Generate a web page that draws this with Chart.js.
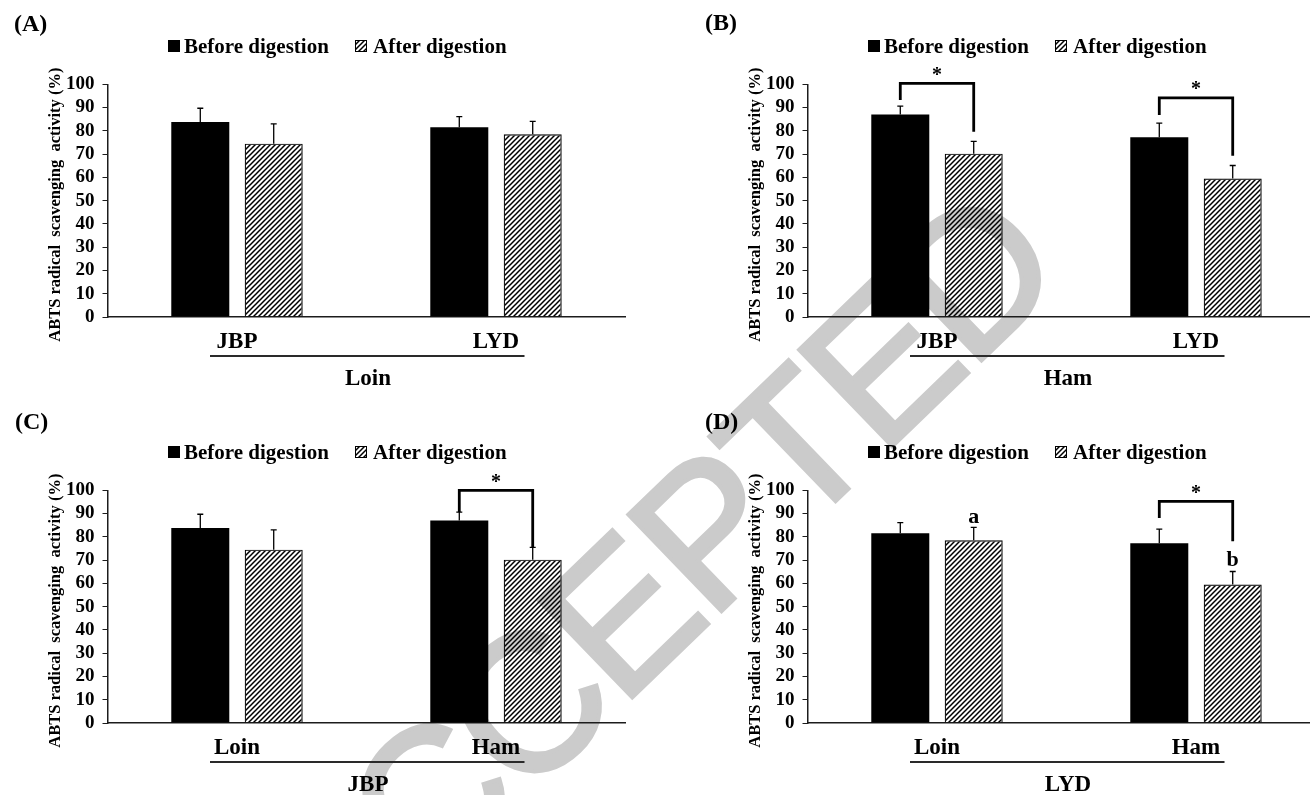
<!DOCTYPE html>
<html>
<head>
<meta charset="utf-8">
<script src="https://cdn.jsdelivr.net/npm/chart.js@4.4.1/dist/chart.umd.min.js"></script>
<style>
html,body{margin:0;padding:0;background:#fff;overflow:hidden;}
#stage{position:relative;width:1310px;height:795px;overflow:hidden;background:#fff;}
#wm{position:absolute;left:0;top:0;z-index:0;}
.panel{position:absolute;z-index:1;}
.panel canvas{display:block;}
</style>
</head>
<body>
<div id="stage">
  <svg id="wm" width="1310" height="795" xmlns="http://www.w3.org/2000/svg">
    <text x="337.6" y="982" transform="rotate(-44 337.6 982)" font-family="'Liberation Sans', Arial, sans-serif" font-size="195" letter-spacing="-6" fill="#cbcbcb" stroke="#cbcbcb" stroke-width="4" stroke-linejoin="miter">ACCEPTED</text>
  </svg>
  <div class="panel" style="left:0px;top:0px;"><canvas id="cA" width="700" height="400"></canvas></div>
  <div class="panel" style="left:700px;top:0px;"><canvas id="cB" width="700" height="400"></canvas></div>
  <div class="panel" style="left:0px;top:406px;"><canvas id="cC" width="700" height="389"></canvas></div>
  <div class="panel" style="left:700px;top:406px;"><canvas id="cD" width="700" height="389"></canvas></div>
</div>
<script>
// ---------------- data ----------------
const breedLabels = ['JBP', 'LYD'];
const cutLabels = ['Loin', 'Ham'];
const seriesNames = ['Before digestion', 'After digestion'];
const yTickMin = 0, yTickMax = 100, yTickStep = 10;

// Loin, per breed [JBP, LYD]
const loinBefore    = [83.8, 81.5];
const loinBeforeErr = [5.9, 4.6];
const loinAfter     = [74.5, 78.5];
const loinAfterErr  = [8.5, 5.6];
// Ham, per breed [JBP, LYD]
const hamBefore     = [87.0, 77.2];
const hamBeforeErr  = [3.6, 6.1];
const hamAfter      = [70.2, 59.5];
const hamAfterErr   = [5.3, 5.6];
// JBP, per cut [Loin, Ham]
const jbpBefore     = [83.8, 87.0];
const jbpBeforeErr  = [5.9, 3.6];
const jbpAfter      = [74.5, 70.2];
const jbpAfterErr   = [8.5, 5.3];
// LYD, per cut [Loin, Ham]
const lydBefore     = [81.5, 77.2];
const lydBeforeErr  = [4.6, 6.1];
const lydAfter      = [78.5, 59.5];
const lydAfterErr   = [5.6, 5.6];

// significance brackets: [category index, bracket top, left leg end, right leg end]
const bracketsB = [[0, 100.4, 93.3, 79.6], [1, 94.2, 86.8, 69.3]];
const bracketsC = [[1, 100.0, 90.7, 75.2]];
const bracketsD = [[1, 95.2, 88.1, 78.1]];
// letters: [dataset index, category index, text, value at baseline]
const lettersD = [[1, 0, 'a', 85.8], [1, 1, 'b', 67.3]];

// ---------------- styles ----------------
const SERIF = "'Liberation Serif', 'Times New Roman', Times, serif";
const INK = '#000';
const AXIS = '#1c1c1c';

function makeHatch() {
  const s = 5;
  const c = document.createElement('canvas');
  c.width = s; c.height = s;
  const g = c.getContext('2d');
  g.strokeStyle = '#000';
  g.lineWidth = 1.5;
  g.beginPath();
  g.moveTo(-1, s + 1); g.lineTo(s + 1, -1);
  g.moveTo(-1, 1); g.lineTo(1, -1);
  g.moveTo(s - 1, s + 1); g.lineTo(s + 1, s - 1);
  g.stroke();
  return document.createElement('canvas').getContext('2d').createPattern(c, 'repeat');
}
const hatch = makeHatch();

function decorPlugin(p) {
  return {
    id: 'decor' + p.id,
    afterDatasetsDraw(chart) {
      const ctx = chart.ctx;
      const ys = chart.scales.y;
      ctx.save();
      // error bars
      chart.data.datasets.forEach((ds, i) => {
        const meta = chart.getDatasetMeta(i);
        meta.data.forEach((bar, j) => {
          const yTop = ys.getPixelForValue(ds.data[j] + ds.errors[j]);
          ctx.strokeStyle = INK;
          ctx.lineWidth = 1.3;
          ctx.beginPath();
          ctx.moveTo(bar.x, bar.y);
          ctx.lineTo(bar.x, yTop);
          ctx.moveTo(bar.x - 3, yTop);
          ctx.lineTo(bar.x + 3, yTop);
          ctx.stroke();
        });
      });
      // brackets
      (p.brackets || []).forEach(b => {
        const xL = chart.getDatasetMeta(0).data[b[0]].x;
        const xR = chart.getDatasetMeta(1).data[b[0]].x;
        const yT = ys.getPixelForValue(b[1]);
        ctx.strokeStyle = INK;
        ctx.lineWidth = 2.8;
        ctx.lineJoin = 'miter';
        ctx.beginPath();
        ctx.moveTo(xL, ys.getPixelForValue(b[2]));
        ctx.lineTo(xL, yT);
        ctx.lineTo(xR, yT);
        ctx.lineTo(xR, ys.getPixelForValue(b[3]));
        ctx.stroke();
        ctx.fillStyle = INK;
        ctx.font = 'bold 20px ' + SERIF;
        ctx.textAlign = 'center';
        ctx.textBaseline = 'alphabetic';
        ctx.fillText('*', (xL + xR) / 2, yT - 2.5);
      });
      // letters
      (p.letters || []).forEach(l => {
        const bar = chart.getDatasetMeta(l[0]).data[l[1]];
        ctx.fillStyle = INK;
        ctx.font = 'bold 22px ' + SERIF;
        ctx.textAlign = 'center';
        ctx.textBaseline = 'alphabetic';
        ctx.fillText(l[2], bar.x, ys.getPixelForValue(l[3]));
      });
      ctx.restore();
    },
    afterDraw(chart) {
      const ctx = chart.ctx;
      const area = chart.chartArea;
      ctx.save();
      // panel label
      ctx.fillStyle = INK;
      ctx.font = 'bold 24px ' + SERIF;
      ctx.textAlign = 'left';
      ctx.textBaseline = 'alphabetic';
      ctx.fillText(p.panel, p.panelX, p.panelY);
      // legend
      ctx.font = 'bold 21px ' + SERIF;
      ctx.fillStyle = '#000';
      ctx.fillRect(168, 40, 12, 12);
      ctx.fillText(seriesNames[0], 184, 53);
      ctx.fillStyle = hatch;
      ctx.fillRect(355, 40, 12, 12);
      ctx.strokeStyle = '#000';
      ctx.lineWidth = 1;
      ctx.strokeRect(355.5, 40.5, 11, 11);
      ctx.fillStyle = INK;
      ctx.fillText(seriesNames[1], 373, 53);
      // y title
      ctx.save();
      ctx.translate(60, (area.top + area.bottom) / 2 + 4);
      ctx.rotate(-Math.PI / 2);
      ctx.font = 'bold 16.5px ' + SERIF;
      ctx.textAlign = 'center';
      ctx.fillText('ABTS radical  scavenging  activity (%)', 0, 0);
      ctx.restore();
      // group line + label
      ctx.strokeStyle = '#2a2a2a';
      ctx.lineWidth = 1.8;
      ctx.beginPath();
      ctx.moveTo(210, area.bottom + 39);
      ctx.lineTo(524.5, area.bottom + 39);
      ctx.stroke();
      ctx.font = 'bold 23px ' + SERIF;
      ctx.textAlign = 'center';
      ctx.fillText(p.group, 368, area.bottom + 68);
      ctx.restore();
    }
  };
}

function makeChart(p) {
  const canvas = document.getElementById(p.id);
  const H = canvas.height, W = canvas.width;
  const common = {categoryPercentage: 0.567, barPercentage: 0.79};
  return new Chart(canvas, {
    type: 'bar',
    data: {
      labels: p.cats,
      datasets: [
        Object.assign({label: seriesNames[0], data: p.before, errors: p.beforeErr,
          backgroundColor: '#000', borderColor: '#000', borderWidth: 0}, common),
        Object.assign({label: seriesNames[1], data: p.after, errors: p.afterErr,
          backgroundColor: hatch, borderColor: '#000', borderWidth: 1.2}, common)
      ]
    },
    options: {
      responsive: false,
      animation: false,
      devicePixelRatio: 1,
      events: [],
      layout: {padding: {left: 0, top: 84.3, right: W - 625.5, bottom: H - 317 - 63}},
      plugins: {legend: {display: false}, tooltip: {enabled: false}, title: {display: false}},
      scales: {
        x: {
          grid: {display: false},
          border: {display: true, color: AXIS, width: 1.5},
          ticks: {color: INK, font: {family: SERIF, weight: 'bold', size: 23}, padding: 3,
                  maxRotation: 0, autoSkip: false},
          afterFit(s) { s.height = 63; }
        },
        y: {
          min: yTickMin, max: yTickMax,
          grid: {display: true, drawOnChartArea: false, drawTicks: true, tickLength: 5,
                 color: AXIS, lineWidth: 1},
          border: {display: true, color: AXIS, width: 1.5},
          ticks: {stepSize: yTickStep, color: INK, autoSkip: false,
                  font: {family: SERIF, weight: 'bold', size: 19}, padding: 8},
          afterFit(s) { s.width = 107.5; }
        }
      }
    },
    plugins: [decorPlugin(p)]
  });
}

makeChart({id: 'cA', cats: breedLabels, before: loinBefore, beforeErr: loinBeforeErr,
  after: loinAfter, afterErr: loinAfterErr, panel: '(A)', panelX: 14, panelY: 31, group: 'Loin'});
makeChart({id: 'cB', cats: breedLabels, before: hamBefore, beforeErr: hamBeforeErr,
  after: hamAfter, afterErr: hamAfterErr, panel: '(B)', panelX: 5, panelY: 30, group: 'Ham',
  brackets: bracketsB});
makeChart({id: 'cC', cats: cutLabels, before: jbpBefore, beforeErr: jbpBeforeErr,
  after: jbpAfter, afterErr: jbpAfterErr, panel: '(C)', panelX: 15, panelY: 23, group: 'JBP',
  brackets: bracketsC});
makeChart({id: 'cD', cats: cutLabels, before: lydBefore, beforeErr: lydBeforeErr,
  after: lydAfter, afterErr: lydAfterErr, panel: '(D)', panelX: 5, panelY: 23, group: 'LYD',
  brackets: bracketsD, letters: lettersD});
</script>
</body>
</html>
